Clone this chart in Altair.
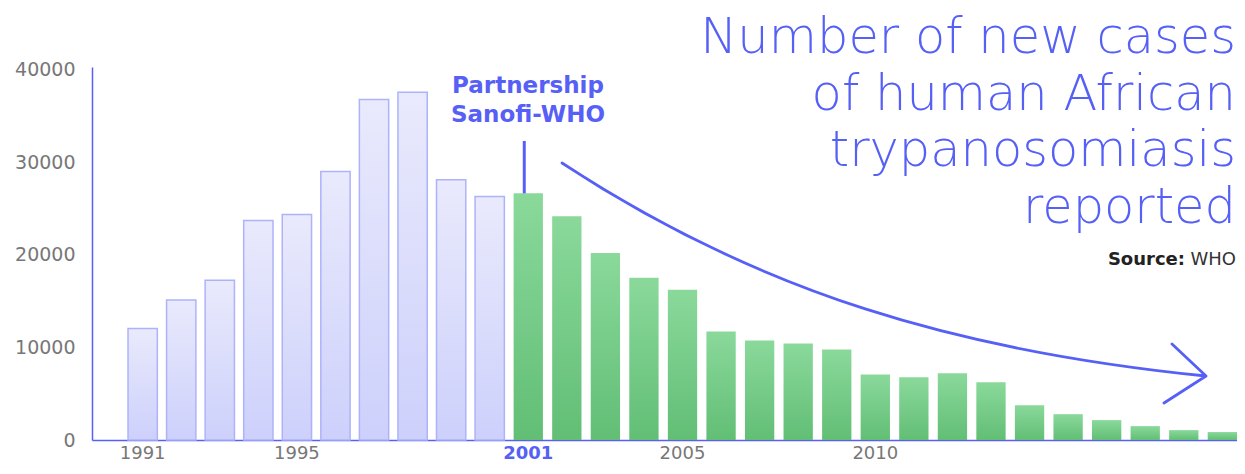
import altair as alt
import pandas as pd

years = list(range(1991, 2020))
cases = [12050, 15120, 17270, 23720, 24360, 29020, 36790, 37580, 28120, 26300,
         26650, 24180, 20200, 17520, 16230, 11710, 10750, 10420, 9780, 7090,
         6770, 7200, 6230, 3760, 2790, 2150, 1500, 1070, 860]
shown_years = ["1991", "1995", "2001", "2005", "2010"]
y_ticks = [0, 10000, 20000, 30000, 40000]
title_lines = ["Number of new cases", "of human African", "trypanosomiasis", "reported"]
note_lines = ["Partnership", "Sanofi-WHO"]
partnership_year = 2001

BLUE = "#5660f6"
GRAY = "#777777"
W, H = 1145, 373
TOP = 67          # page y of plot top
LEFT = 92         # page x of plot left
RIGHT = LEFT + W  # page x of plot right (1237)

df = pd.DataFrame({"year": years, "cases": cases})
one = pd.DataFrame({"k": [0]})

x_enc = alt.X(
    "year:O",
    scale=alt.Scale(paddingInner=0.24, paddingOuter=0.467, align=1),
    axis=alt.Axis(
        title=None, ticks=False, grid=False, labelAngle=0,
        domainColor=BLUE, domainWidth=1.5,
        labelFont="DejaVu Sans", labelFontSize=18, labelPadding=4,
        labelColor={"condition": {"test": f"datum.value == {partnership_year}", "value": BLUE}, "value": GRAY},
        labelFontWeight={"condition": {"test": f"datum.value == {partnership_year}", "value": "bold"}, "value": "normal"},
        labelExpr="indexof(" + str(shown_years) + ", datum.label) >= 0 ? datum.label : ''",
    ),
)
y_enc = alt.Y(
    "cases:Q",
    scale=alt.Scale(domain=[0, 40300], nice=False),
    axis=alt.Axis(
        title=None, ticks=False, grid=False, values=y_ticks, format="d",
        domainColor=BLUE, domainWidth=1.5,
        labelFont="DejaVu Sans", labelFontSize=19, labelColor=GRAY, labelPadding=17,
    ),
)

blue_grad = alt.Gradient(
    gradient="linear",
    stops=[alt.GradientStop(color="#e9eafc", offset=0), alt.GradientStop(color="#cdd0fb", offset=1)],
    x1=0, x2=0, y1=0, y2=1,
)
green_grad = alt.Gradient(
    gradient="linear",
    stops=[alt.GradientStop(color="#8ad99b", offset=0), alt.GradientStop(color="#62be75", offset=1)],
    x1=0, x2=0, y1=0, y2=1,
)

base = alt.Chart(df)
before = base.transform_filter(f"datum.year < {partnership_year}").mark_bar(
    color=blue_grad, stroke="#aeb2fa", strokeWidth=1.5
).encode(x=x_enc, y=y_enc)
after = base.transform_filter(f"datum.year >= {partnership_year}").mark_bar(
    color=green_grad
).encode(x=x_enc, y=y_enc)

rule = base.transform_filter(f"datum.year == {partnership_year}").mark_rule(
    color=BLUE, strokeWidth=3, xOffset=-4
).encode(x="year:O", y="cases:Q", y2=alt.value(141 - TOP))

note = alt.Chart(one).mark_text(
    text=note_lines, font="DejaVu Sans", fontWeight="bold", fontSize=23,
    color=BLUE, align="center", baseline="alphabetic", lineHeight=29,
).encode(x=alt.value(528 - LEFT), y=alt.value(93 - TOP))

title = alt.Chart(one).mark_text(
    text=title_lines, font="DejaVu Sans", fontWeight=200, fontSize=49.5,
    color=BLUE, align="right", baseline="alphabetic", lineHeight=56.5,
).encode(x=alt.value(RIGHT - 1 - LEFT), y=alt.value(53 - TOP))

src_b = alt.Chart(one).mark_text(
    text="Source:", font="DejaVu Sans", fontWeight="bold", fontSize=18,
    color="#222222", align="right", baseline="alphabetic",
).encode(x=alt.value(RIGHT - 52 - LEFT), y=alt.value(265 - TOP))
src_r = alt.Chart(one).mark_text(
    text="WHO", font="DejaVu Sans", fontSize=18,
    color="#333333", align="right", baseline="alphabetic",
).encode(x=alt.value(RIGHT - 1 - LEFT), y=alt.value(265 - TOP))

# arrow annotation drawn as one custom symbol
cx, cy, k = 885, 283, 325
def P(px, py):
    return f"{(px - cx) / k:.4f},{(py - cy) / k:.4f}"
arrow_path = (
    f"M{P(562,163)} C{P(760,293)} {P(958,351)} {P(1206,376)} "
    f"M{P(1172,344)} L{P(1206,376)} L{P(1164,403)}"
)
arrow = alt.Chart(one).mark_point(
    shape=arrow_path, size=(2 * k) ** 2, filled=False, stroke=BLUE,
    strokeWidth=2.8, opacity=1, strokeCap="round", strokeJoin="round",
).encode(x=alt.value(cx - LEFT), y=alt.value(cy - TOP))

chart = alt.layer(before, after, rule, note, title, src_b, src_r, arrow).properties(
    width=W, height=H,
    background="white",
    autosize=alt.AutoSizeParams(type="none"),
    padding={"left": LEFT - 8, "top": TOP - 8, "right": 0, "bottom": 22},
).configure_view(stroke="transparent", strokeWidth=0)

chart.save("out.html", embed_options={"renderer": "svg", "actions": False})
